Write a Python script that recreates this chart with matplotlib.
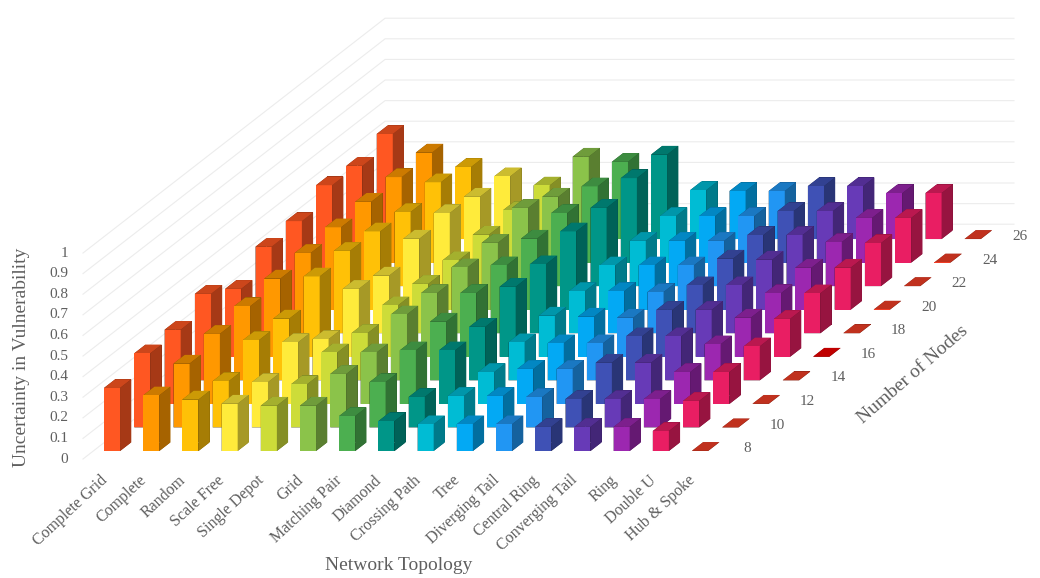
"""Oblique 3D bar chart of vulnerability uncertainty by topology and node count."""

import matplotlib

matplotlib.use("Agg")
import matplotlib.colors as mcolors
import matplotlib.pyplot as plt
import numpy as np

TOPOLOGIES = [
    "Complete Grid", "Complete", "Random", "Scale Free", "Single Depot", "Grid",
    "Matching Pair", "Diamond", "Crossing Path", "Tree", "Diverging Tail",
    "Central Ring", "Converging Tail", "Ring", "Double U", "Hub & Spoke",
]
NODES = [8, 10, 12, 14, 16, 18, 20, 22, 24, 26]
Z_TICKS = [0, 0.1, 0.2, 0.3, 0.4, 0.5, 0.6, 0.7, 0.8, 0.9, 1]

# one list per topology, values for 8..26 nodes
complete_grid = [.306, .36, .36, .42, .33, .42, .43, .49, .47, .51]
complete = [.27, .31, .34, .36, .38, .39, .40, .41, .415, .42]
random_net = [.25, .225, .31, .30, .39, .40, .38, .36, .39, .35]
scale_free = [.23, .22, .30, .20, .33, .28, .345, .355, .32, .305]
single_depot = [.22, .21, .25, .23, .25, .24, .24, .25, .255, .26]
grid = [.22, .26, .25, .32, .31, .32, .325, .38, .32, .40]
matching_pair = [.17, .22, .26, .285, .31, .33, .345, .355, .37, .375]
diamond = [.145, .148, .26, .26, .34, .335, .38, .38, .41, .41]
crossing_path = [.13, .153, .155, .185, .20, .205, .215, .22, .226, .238]
tree = [.13, .153, .17, .18, .195, .205, .215, .22, .226, .233]
diverging_tail = [.13, .148, .17, .18, .19, .20, .215, .22, .226, .233]
central_ring = [.117, .138, .20, .214, .228, .233, .248, .248, .25, .257]
converging_tail = [.117, .138, .20, .214, .228, .233, .243, .248, .25, .257]
ring = [.117, .138, .155, .175, .19, .195, .204, .214, .217, .223]
double_u = [.097, .129, .155, .165, .184, .194, .204, .209, .217, .223]
hub_spoke = [.001, .001, .001, .001, .001, .001, .001, .001, .001, .001]

VALUES = [
    complete_grid, complete, random_net, scale_free, single_depot, grid,
    matching_pair, diamond, crossing_path, tree, diverging_tail, central_ring,
    converging_tail, ring, double_u, hub_spoke,
]
COLORS = [
    "#FF5722", "#FF9800", "#FFC107", "#FFEB3B", "#CDDC39", "#8BC34A", "#4CAF50",
    "#009688", "#00BCD4", "#03A9F4", "#2196F3", "#3F51B5", "#673AB7", "#9C27B0",
    "#E91E63", "#F03D26",
]
HUB_16_COLOR = "#F00000"

TEXT = "#5f5f5f"
SERIF = "Liberation Serif"
BAR_W, BAR_D = 0.41, 0.37

# Excel's chart is a plain oblique projection: pixels per data unit
W, H = 1040, 578
ORIGIN = (104.0, H - 451.0)
PX_X, PX_Y_X, PX_Y_Y, PX_Z = 39.2, 30.3, 23.55, 206.0
WALL_X, WALL_Y, RIGHT_X = -0.273, -0.34, 15.77
BACK_Y = 9.63


def shade(color, factor):
    r, g, b = mcolors.to_rgb(color)
    return (r * factor, g * factor, b * factor, 1.0)


def fig_xy(x, y, z):
    """Figure fraction of a data point, for labels placed with fig.text."""
    return ((ORIGIN[0] + PX_X * x + PX_Y_X * y) / W,
            (ORIGIN[1] + PX_Y_Y * y + PX_Z * z) / H)


fig = plt.figure(figsize=(10.4, 5.78), dpi=100)
ax = fig.add_subplot(projection="3d")
ax.set_position([0, 0, 1, 1])
ax.apply_aspect = lambda position=None: None
ax.set_axis_off()
ax.set_proj_type("ortho")
ax.computed_zorder = False


def oblique_proj():
    to_ax = ax.transData.inverted().get_matrix()
    px = np.array([
        [PX_X, PX_Y_X, 0, ORIGIN[0]],
        [0, PX_Y_Y, PX_Z, ORIGIN[1]],
        [0, 0, 0, 1],
    ])
    xy = to_ax @ px
    return np.array([xy[0], xy[1], [-1, 1, -1, 0], [0, 0, 0, 1]])


ax.get_proj = oblique_proj

for tick in Z_TICKS:
    ax.plot([WALL_X, WALL_X, RIGHT_X], [WALL_Y, BACK_Y, BACK_Y], [tick, tick, tick],
            color="#ececec", linewidth=0.8, zorder=0)
    fx, fy = fig_xy(WALL_X - 0.37, WALL_Y, tick)
    fig.text(fx, fy, f"{tick:g}", ha="right", va="center",
             color=TEXT, family=SERIF, fontsize=11)

for j, nodes in enumerate(NODES):
    for i, series in enumerate(VALUES):
        color = COLORS[i]
        if i == 15 and nodes == 16:
            color = HUB_16_COLOR
        faces = [shade(color, f) for f in (0.5, 0.8, 1.0, 0.5, 0.5, 0.65)]
        ax.bar3d(i, j, 0, BAR_W, BAR_D, series[j], color=faces, shade=False,
                 linewidth=0, zorder=10 + (len(NODES) - j))
    fx, fy = fig_xy(16.33, j + 0.1, 0)
    fig.text(fx, fy, str(nodes), ha="center", va="center",
             color=TEXT, family=SERIF, fontsize=11)

for i, label in enumerate(TOPOLOGIES):
    fx, fy = fig_xy(i + 0.58, -0.9, 0)
    fig.text(fx, fy, label, ha="right", va="top", rotation=43,
             rotation_mode="anchor", color=TEXT, family=SERIF, fontsize=11.5)

fig.text(22 / W, 1 - 357 / H, "Uncertainty in Vulnerability", rotation=90,
         ha="center", va="center", color=TEXT, family=SERIF, fontsize=14)
fig.text(399 / W, 1 - 566 / H, "Network Topology", ha="center", va="center",
         color=TEXT, family=SERIF, fontsize=14)
fig.text(913 / W, 1 - 375 / H, "Number of Nodes", rotation=41, ha="center",
         va="center", rotation_mode="anchor", color=TEXT, family=SERIF, fontsize=14)

fig.savefig("out.png", dpi=100)
